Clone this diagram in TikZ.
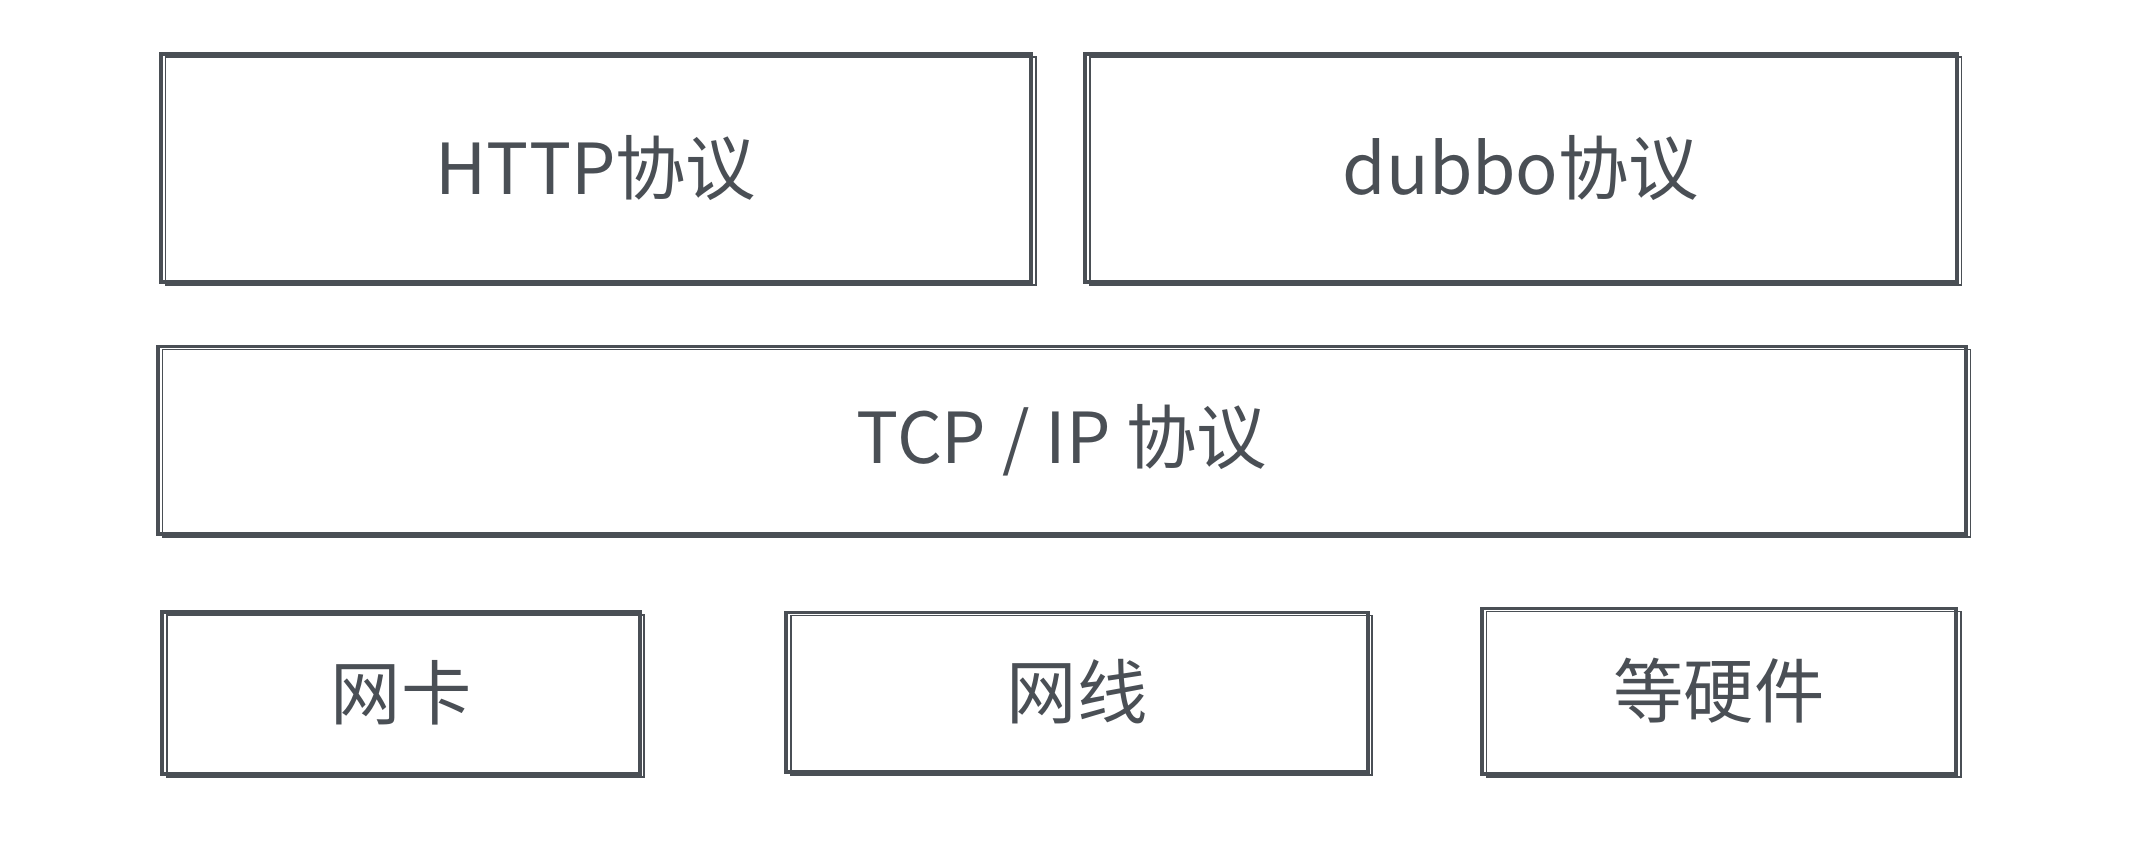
\documentclass[tikz,border=0pt]{standalone}
\usepackage{fontspec}
\setmainfont{Noto Sans CJK SC}
\usepackage{xcolor}
\definecolor{ink}{HTML}{4A4F55}

\begin{document}
\begin{tikzpicture}[x=0.01cm,y=-0.01cm,
 layer/.style={draw=ink,line width=1.1pt,text=ink,font=\fontsize{20}{24}\selectfont,
  inner sep=0pt,outer sep=0pt,
  postaction={draw=ink,line width=0.45pt,transform canvas={xshift=1.3pt,yshift=-0.9pt}}},
 wide/.style={layer,minimum height=2.28cm}]
\useasboundingbox (0,0) rectangle (2136,856);
% application layer
\node[wide,minimum width=8.70cm] (http) at (596,168) {HTTP协议};
\node[wide,minimum width=8.71cm] (dubbo) at (1521,168) {dubbo协议};
% transport layer
\node[layer,minimum width=18.07cm,minimum height=1.87cm] (tcp) at (1062,440) {TCP / IP 协议};
% hardware
\node[layer,minimum width=4.77cm,minimum height=1.62cm] (nic) at (401,693) {网卡};
\node[layer,minimum width=5.81cm,minimum height=1.59cm] (cable) at (1077,692) {网线};
\node[layer,minimum width=4.74cm,minimum height=1.65cm] (hw) at (1719,691) {等硬件};
\end{tikzpicture}
\end{document}
